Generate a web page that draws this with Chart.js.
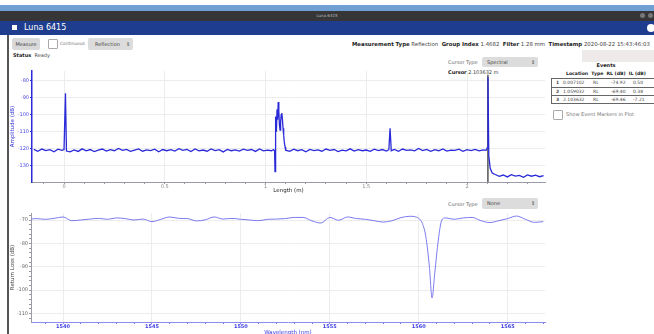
<!DOCTYPE html>
<html>
<head>
<meta charset="utf-8">
<script src="https://cdn.jsdelivr.net/npm/chart.js@4.4.1/dist/chart.umd.min.js"></script>
<style>
  html, body { margin: 0; padding: 0; }
  body { width: 654px; height: 334px; overflow: hidden; position: relative; background: #fff;
         font-family: "DejaVu Sans", sans-serif; color: #444; }
  .abs { position: absolute; white-space: nowrap; }
  .tiny { font-size: 5px; line-height: 6px; }
  .btn { background: #d9d9d9; border-radius: 2px; text-align: center; }
  .sel { background: #dcdcdc; border-radius: 2px; }
  .box { background: #fff; border: 1px solid #aaa; border-radius: 1px; }
  b { font-weight: bold; color: #222; }
  #eventRows { position: absolute; left: 551px; top: 78px; width: 110px; border: 1px solid #666; }
  .row { position: relative; height: 8px; box-sizing: border-box; font-size: 4.5px; line-height: 7px; }
  .row + .row { border-top: 1px solid #666; }
  .row span { position: absolute; top: 0; }
  canvas { position: absolute; }
</style>
</head>
<body>
<!-- window chrome -->
<div class="abs" style="left:0;top:5px;width:654px;height:6px;background:#6f9fd3"></div>
<div class="abs" style="left:0;top:11px;width:654px;height:10px;background:#363636"></div>
<div class="abs" style="left:0;top:12px;width:654px;text-align:center;font-size:4px;line-height:8px;color:#bbb">Luna 6415</div>
<div class="abs" style="left:640px;top:13px;width:5px;height:5px;border-radius:3px;background:#777"></div>
<div class="abs" style="left:648px;top:13px;width:5px;height:5px;border-radius:3px;background:#777"></div>
<div class="abs" style="left:0;top:21px;width:654px;height:14px;background:#1f3d8e"></div>
<div class="abs" style="left:12px;top:25px;width:5px;height:5px;background:#fff"></div>
<div class="abs" style="left:24px;top:21px;font-size:8px;line-height:14px;color:#fff">Luna 6415</div>
<div class="abs" style="left:647px;top:24px;width:8px;height:8px;border-radius:4px;background:#fff"></div>
<div class="abs" style="left:7px;top:35px;width:2px;height:299px;background:#555"></div>

<!-- controls -->
<div class="abs btn tiny" style="left:12px;top:38px;width:28px;height:12px;line-height:12px">Measure</div>
<div class="abs box" style="left:48px;top:39px;width:8px;height:8px"></div>
<div class="abs" style="left:60px;top:41px;font-size:4.4px;line-height:6px;color:#777">Continuous</div>
<div class="abs sel tiny" style="left:88px;top:38px;width:45px;height:12px;line-height:12px">
  <span style="position:absolute;left:7px">Reflection</span><span style="position:absolute;left:38px">&#8661;</span></div>
<div class="abs tiny" style="left:13px;top:52px"><b>Status</b>&nbsp; Ready</div>

<div class="abs" style="left:352px;top:41px;font-size:5.4px;line-height:6px">
  <b>Measurement Type</b> Reflection&nbsp; <b>Group Index</b> 1.4682&nbsp; <b>Filter</b> 1.28 mm&nbsp; <b>Timestamp</b> 2020-08-22 15:43:46:03</div>
<div class="abs" style="left:582px;top:50px;width:72px;height:12px;background:#eeeaea"></div>

<div class="abs tiny" style="left:448px;top:59px;color:#666">Cursor Type</div>
<div class="abs sel tiny" style="left:482px;top:57px;width:56px;height:10px;line-height:10px">
  <span style="position:absolute;left:5px">Spectral</span><span style="position:absolute;left:49px">&#8661;</span></div>
<div class="abs tiny" style="left:448px;top:69px"><b>Cursor</b> 2.103632 m</div>

<!-- events panel -->
<div class="abs" style="left:551px;top:62px;width:110px;text-align:center;font-size:5px;line-height:6px"><b>Events</b></div>
<div class="abs" style="left:566px;top:71px;font-size:4.6px;line-height:6px"><b>Location&nbsp; Type&nbsp; RL (dB)&nbsp; IL (dB)</b></div>
<div id="eventRows"></div>
<div class="abs box" style="left:553px;top:110px;width:8px;height:8px"></div>
<div class="abs tiny" style="left:566px;top:111px;color:#777">Show Event Markers in Plot</div>

<div class="abs tiny" style="left:448px;top:201px;color:#666">Cursor Type</div>
<div class="abs sel tiny" style="left:482px;top:198px;width:56px;height:11px;line-height:11px">
  <span style="position:absolute;left:5px">None</span><span style="position:absolute;left:49px">&#8661;</span></div>

<canvas id="lengthChart" width="546" height="140" style="left:8px;top:60px"></canvas>
<canvas id="spectrumChart" width="546" height="140" style="left:8px;top:200px"></canvas>

<script>
// Reflection trace: [length (m), amplitude (dB)]
const lengthTrace = [
  [-0.15,-120.4],[-0.13,-121.5],[-0.11,-120.2],[-0.09,-121.1],[-0.07,-120.6],[-0.05,-121.8],
  [-0.03,-120.3],[-0.01,-121.0],[0.000,-120.5],[0.007,-87.4],[0.012,-121.4],[0.03,-121.9],
  [0.05,-120.7],[0.07,-121.6],[0.09,-120.1],[0.11,-121.3],[0.13,-120.5],[0.15,-121.7],
  [0.17,-120.9],[0.19,-120.2],[0.21,-121.4],[0.23,-120.6],[0.25,-121.2],[0.27,-119.9],
  [0.29,-121.0],[0.31,-120.4],[0.33,-121.6],[0.35,-120.8],[0.37,-120.1],[0.39,-121.5],
  [0.41,-120.7],[0.43,-121.1],[0.45,-120.3],[0.47,-121.8],[0.49,-120.5],[0.51,-121.2],
  [0.53,-120.6],[0.55,-121.4],[0.57,-120.0],[0.59,-121.0],[0.61,-120.4],[0.63,-121.7],
  [0.65,-120.2],[0.67,-121.3],[0.69,-120.8],[0.71,-121.5],[0.73,-120.1],[0.75,-121.1],
  [0.77,-120.6],[0.79,-121.9],[0.81,-120.4],[0.83,-121.2],[0.85,-120.7],[0.87,-121.4],
  [0.89,-120.3],[0.91,-121.0],[0.93,-120.5],[0.95,-121.6],[0.97,-120.2],[0.99,-121.3],
  [1.01,-120.8],[1.03,-121.2],[1.040,-120.5],[1.045,-121.4],[1.047,-133.5],[1.049,-118.0],
  [1.051,-101.0],[1.054,-110.0],[1.057,-97.0],[1.060,-103.0],[1.063,-92.5],[1.066,-98.0],
  [1.069,-106.0],[1.072,-109.0],[1.075,-104.0],[1.078,-100.0],[1.081,-99.0],[1.084,-103.0],
  [1.087,-108.0],[1.090,-112.0],[1.093,-116.0],[1.097,-119.0],[1.10,-120.9],[1.12,-121.6],
  [1.14,-120.3],[1.16,-121.2],[1.18,-120.6],[1.20,-121.8],[1.22,-120.4],[1.24,-121.1],
  [1.26,-120.7],[1.28,-121.5],[1.30,-120.2],[1.32,-121.0],[1.34,-120.5],[1.36,-121.7],
  [1.38,-120.9],[1.40,-121.3],[1.42,-120.1],[1.44,-121.4],[1.46,-120.6],[1.48,-121.2],
  [1.50,-120.8],[1.52,-121.6],[1.54,-120.3],[1.56,-121.1],[1.58,-120.5],[1.60,-121.4],
  [1.612,-120.6],[1.618,-108.0],[1.624,-121.2],[1.64,-120.4],[1.66,-121.5],[1.68,-120.2],
  [1.70,-121.0],[1.72,-120.7],[1.74,-121.3],[1.76,-119.9],[1.78,-121.1],[1.80,-120.4],
  [1.82,-121.6],[1.84,-120.6],[1.86,-121.2],[1.88,-120.1],[1.90,-121.4],[1.92,-120.8],
  [1.94,-121.0],[1.96,-120.3],[1.98,-121.5],[2.00,-120.6],[2.02,-121.1],[2.04,-120.4],
  [2.06,-121.3],[2.08,-120.7],[2.095,-121.0],[2.100,-119.5],[2.104,-78.0],[2.108,-124.0],
  [2.115,-131.5],[2.125,-134.3],[2.14,-135.2],[2.16,-136.3],[2.18,-135.5],[2.20,-136.6],
  [2.22,-135.3],[2.24,-136.1],[2.26,-135.7],[2.28,-136.8],[2.30,-135.4],[2.32,-136.2],
  [2.34,-135.6],[2.36,-136.5],[2.38,-135.9]
];

// Return loss spectrum: [wavelength (nm), dB]
const spectrumTrace = [
  [1538.2,-69.6],[1538.5,-69.4],[1539.0,-69.7],[1539.5,-69.3],[1540.0,-68.7],[1540.5,-70.3],
  [1541.0,-70.0],[1541.5,-69.6],[1542.0,-69.3],[1542.5,-69.7],[1543.0,-69.1],[1543.5,-69.4],
  [1544.0,-70.0],[1544.5,-69.6],[1545.0,-70.7],[1545.5,-69.7],[1546.0,-68.7],[1546.5,-69.3],
  [1547.0,-69.4],[1547.5,-70.4],[1548.0,-69.9],[1548.5,-68.7],[1549.0,-69.6],[1549.5,-69.3],
  [1550.0,-69.7],[1550.5,-70.0],[1551.0,-70.3],[1551.5,-69.7],[1552.0,-69.6],[1552.5,-69.4],
  [1553.0,-68.9],[1553.5,-68.9],[1554.0,-70.4],[1554.5,-71.3],[1555.0,-68.9],[1555.5,-70.1],
  [1556.0,-68.7],[1556.5,-69.4],[1557.0,-69.7],[1557.5,-70.3],[1558.0,-70.9],[1558.5,-70.3],
  [1559.0,-69.0],[1559.5,-68.4],[1560.0,-69.3],[1560.2,-71.4],[1560.4,-77.1],[1560.6,-90.0],
  [1560.75,-103.4],[1560.9,-92.9],[1561.1,-78.6],[1561.3,-70.0],[1561.5,-69.1],[1562.0,-69.7],
  [1562.5,-69.1],[1563.0,-68.9],[1563.5,-70.3],[1564.0,-71.1],[1564.5,-70.3],[1565.0,-69.4],
  [1565.5,-68.3],[1566.0,-69.7],[1566.5,-71.0],[1567.0,-70.7]
];

const lengthMin = -0.159, lengthMax = 2.387;
const ampMin = -139.6, ampMax = -74.3;
const waveMin = 1538.2, waveMax = 1567.1;
const rlMin = -113.7, rlMax = -67;
const cursorLengthM = 2.103632;
const cursorTopDb = -76.5;

const lengthTicks = [-0.1,0,0.1,0.2,0.3,0.4,0.5,0.6,0.7,0.8,0.9,1,1.1,1.2,1.3,1.4,1.5,1.6,1.7,1.8,1.9,2,2.1,2.2,2.3];
const lengthLabels = [0, 0.5, 1, 1.5, 2];
const ampTicks = [-130, -120, -110, -100, -90, -80];
const waveTicks = [1539,1540,1541,1542,1543,1544,1545,1546,1547,1548,1549,1550,1551,1552,1553,
  1554,1555,1556,1557,1558,1559,1560,1561,1562,1563,1564,1565,1566,1567];
const waveLabels = [1540, 1545, 1550, 1555, 1560, 1565];
const rlTicks = [-112,-110,-108,-106,-104,-102,-100,-98,-96,-94,-92,-90,-88,-86,-84,-82,-80,
  -78,-76,-74,-72,-70,-68];
const rlLabels = [-110, -100, -90, -80, -70];

const events = [
  ["1", "0.007102", "RL", "-74.92", "0.50"],
  ["2", "1.059032", "RL", "-69.40", "0.38"],
  ["3", "2.103632", "RL", "-69.46", "-7.21"]
];

const FONT = "DejaVu Sans";
const BLUE = "#2a2ad8";
const isIn = (list, v) => list.some((m) => Math.abs(m - v) < 1e-6);

// events table rows
document.getElementById("eventRows").innerHTML = events
  .map((e) => `
    <div class="row">
      <span style="left:4px;font-weight:bold">${e[0]}</span>
      <span style="left:11px">${e[1]}</span>
      <span style="left:41px">${e[2]}</span>
      <span style="left:59px">${e[3]}</span>
      <span style="left:81px">${e[4]}</span>
    </div>`)
  .join("");

Chart.defaults.font.family = FONT;
Chart.defaults.animation = false;

function axis(opts) {
  return {
    type: "linear",
    min: opts.min,
    max: opts.max,
    afterBuildTicks: (s) => { s.ticks = opts.ticks.map((v) => ({ value: v })); },
    afterFit: opts.fit,
    ticks: {
      autoSkip: false, maxRotation: 0, padding: opts.pad || 0,
      color: opts.labelColor,
      font: { size: 5, weight: opts.bold ? "bold" : "normal" },
      callback: (v) => (isIn(opts.labels, v) ? String(v) : "")
    },
    grid: {
      color: (c) => (c.tick && isIn(opts.labels, c.tick.value) ? "#ececec" : "rgba(0,0,0,0)"),
      tickColor: opts.tickColor,
      tickLength: 2
    },
    border: { color: opts.lineColor, width: opts.lineWidth || 1 },
    title: {
      display: true, text: opts.title, color: opts.titleColor,
      font: { size: 5.5 }, padding: opts.titlePad
    }
  };
}

new Chart(document.getElementById("lengthChart"), {
  type: "line",
  data: {
    datasets: [
      {
        data: lengthTrace.map(([x, y]) => ({ x, y })),
        borderColor: BLUE, borderWidth: 1.3, pointRadius: 0, tension: 0
      },
      {
        data: [{ x: cursorLengthM, y: cursorTopDb }, { x: cursorLengthM, y: ampMin }],
        borderColor: "#555", borderWidth: 1.5, pointRadius: 0
      }
    ]
  },
  options: {
    responsive: false,
    devicePixelRatio: 1,
    layout: { padding: { top: 11, right: 9, left: 0, bottom: 0 } },
    plugins: { legend: { display: false }, tooltip: { enabled: false } },
    scales: {
      x: axis({
        min: lengthMin, max: lengthMax, ticks: lengthTicks, labels: lengthLabels,
        fit: (s) => { s.height = 18; }, labelColor: "#888", tickColor: "#999",
        lineColor: "#9a9aa8", title: "Length (m)", titleColor: "#222",
        titlePad: { top: 0, bottom: 6 }
      }),
      y: axis({
        min: ampMin, max: ampMax, ticks: ampTicks, labels: ampTicks,
        fit: (s) => { s.width = 24; }, labelColor: "#4a4ae0", tickColor: BLUE, pad: 1,
        lineColor: BLUE, lineWidth: 1.5, title: "Amplitude (dB)", titleColor: "#3434d8",
        titlePad: { top: 1, bottom: 0 }
      })
    }
  }
});

new Chart(document.getElementById("spectrumChart"), {
  type: "line",
  data: {
    datasets: [
      {
        data: spectrumTrace.map(([x, y]) => ({ x, y })),
        borderColor: "#7a7aee", borderWidth: 1, pointRadius: 0,
        cubicInterpolationMode: "monotone"
      }
    ]
  },
  options: {
    responsive: false,
    devicePixelRatio: 1,
    layout: { padding: { top: 13, right: 9, left: 0, bottom: 0 } },
    plugins: { legend: { display: false }, tooltip: { enabled: false } },
    scales: {
      x: axis({
        min: waveMin, max: waveMax, ticks: waveTicks, labels: waveLabels,
        fit: (s) => { s.height = 18; }, labelColor: "#3a3ae0", tickColor: "#7a7aee", bold: true,
        lineColor: "#8c8cf0", title: "Wavelength (nm)", titleColor: "#3a3ae0",
        titlePad: { top: 0, bottom: 4 }
      }),
      y: axis({
        min: rlMin, max: rlMax, ticks: rlTicks, labels: rlLabels,
        fit: (s) => { s.width = 23; }, labelColor: "#666", tickColor: "#999", pad: 1,
        lineColor: "#9a9aa8", title: "Return Loss (dB)", titleColor: "#444",
        titlePad: { top: 1, bottom: 0 }
      })
    }
  }
});
</script>
</body>
</html>
